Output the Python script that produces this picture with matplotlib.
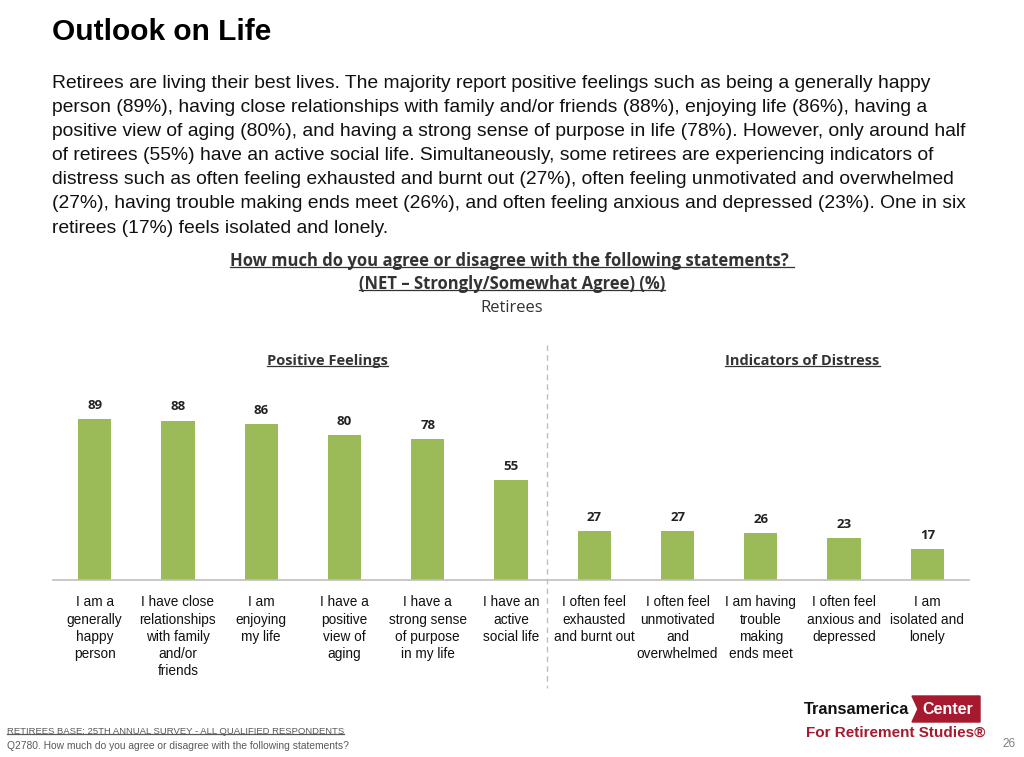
import matplotlib.pyplot as plt
from matplotlib.patches import Polygon
from matplotlib.lines import Line2D

# data
categories = [
    "I am a\ngenerally\nhappy\nperson",
    "I have close\nrelationships\nwith family\nand/or\nfriends",
    "I am\nenjoying\nmy life",
    "I have a\npositive\nview of\naging",
    "I have a\nstrong sense\nof purpose\nin my life",
    "I have an\nactive\nsocial life",
    "I often feel\nexhausted\nand burnt out",
    "I often feel\nunmotivated\nand\noverwhelmed",
    "I am having\ntrouble\nmaking\nends meet",
    "I often feel\nanxious and\ndepressed",
    "I am\nisolated and\nlonely",
]
values = [89, 88, 86, 80, 78, 55, 27, 27, 26, 23, 17]
group_names = ["Positive Feelings", "Indicators of Distress"]
group_centers = [2.8, 8.5]

paragraph = [
    "Retirees are living their best lives. The majority report positive feelings such as being a generally happy",
    "person (89%), having close relationships with family and/or friends (88%), enjoying life (86%), having a",
    "positive view of aging (80%), and having a strong sense of purpose in life (78%). However, only around half",
    "of retirees (55%) have an active social life. Simultaneously, some retirees are experiencing indicators of",
    "distress such as often feeling exhausted and burnt out (27%), often feeling unmotivated and overwhelmed",
    "(27%), having trouble making ends meet (26%), and often feeling anxious and depressed (23%). One in six",
    "retirees (17%) feels isolated and lonely.",
]

W, H = 1024, 757
fig = plt.figure(figsize=(W / 100, H / 100), dpi=100)

def fx(px):
    return px / W

def fy(py):
    return 1 - py / H

underlines = []

def ftext(x, y, s, underline=False, **kw):
    t = fig.text(fx(x), fy(y), s, **kw)
    if underline:
        underlines.append((t, kw.get("color", "black")))
    return t

narrow = "Liberation Sans"

# heading and paragraph
ftext(52, 32, "Outlook on Life", fontsize=21.5, fontweight="bold",
      family=narrow, va="center")
for i, line in enumerate(paragraph):
    ftext(52, 83 + i * 24.2, line, fontsize=13.9, family=narrow,
          va="center", color="#111111")

# chart titles
ftext(512, 261, "How much do you agree or disagree with the following statements? ",
      underline=True, fontsize=12, fontweight="bold", family="Open Sans",
      ha="center", va="center", color="#333333")
ftext(512, 284, "(NET \u2013 Strongly/Somewhat Agree) (%)", underline=True,
      fontsize=12, fontweight="bold", family="Open Sans", ha="center",
      va="center", color="#333333")
ftext(512, 308, "Retirees", fontsize=12, family="Open Sans", ha="center",
      va="center", color="#333333")

# bar chart
ax = fig.add_axes([fx(53), fy(580), fx(916), 181 / H])
x = range(len(values))
ax.bar(x, values, width=0.4, color="#9BBB59")
for xi, v in zip(x, values):
    ax.text(xi, v + 4, str(v), ha="center", va="bottom", fontsize=9.5,
            fontweight="bold", family="Open Sans", color="#222222")
ax.set_xlim(-0.5, len(values) - 0.5)
ax.set_ylim(0, 100)
ax.set_xticks(list(x))
ax.set_xticklabels(categories, fontsize=9.8, family=narrow,
                   linespacing=1.3, color="#111111")
ax.tick_params(axis="x", length=0, pad=11)
ax.set_yticks([])
for side in ["top", "right", "left"]:
    ax.spines[side].set_visible(False)
ax.spines["bottom"].set_color("#BFBFBF")
ax.spines["bottom"].set_linewidth(1.2)

for name, c in zip(group_names, group_centers):
    t = ax.text(c, 121, name, ha="center", va="center", fontsize=10.5,
                fontweight="bold", family="Open Sans", color="#333333")
    underlines.append((t, "#333333"))

# dashed divider between the groups
fig.add_artist(Line2D([fx(547), fx(547)], [fy(345), fy(688)], color="#BFBFBF",
                      linestyle=(0, (4, 3)), linewidth=1))

# footer
ftext(7, 731, "RETIREES BASE: 25TH ANNUAL SURVEY - ALL QUALIFIED RESPONDENTS",
      underline=True, fontsize=6.8, family=narrow, va="center",
      color="#595959")
ftext(7, 746, "Q2780. How much do you agree or disagree with the following statements?",
      fontsize=7.4, family=narrow, va="center", color="#595959")
ftext(1016, 744, "26", fontsize=8.5, family=narrow, ha="right",
      va="center", color="#7F7F7F")

# logo
red = "#A6192E"
ftext(909, 709, "Transamerica", fontsize=11.8, fontweight="bold",
      family=narrow, ha="right", va="center", color="#111111")
fig.add_artist(Polygon([(fx(912), fy(696)), (fx(980), fy(696)), (fx(980), fy(722)),
                        (fx(912), fy(722)), (fx(918), fy(709))],
                       closed=True, transform=fig.transFigure, color=red))
ftext(948, 709, "Center", fontsize=11.5, fontweight="bold",
      family=narrow, ha="center", va="center", color="white")
ftext(985, 733, "For Retirement Studies\u00ae", fontsize=11, fontweight="bold",
      family=narrow, ha="right", va="center", color=red)

# underline texts after layout is known
fig.canvas.draw()
r = fig.canvas.get_renderer()
for t, col in underlines:
    bb = t.get_window_extent(renderer=r).transformed(fig.transFigure.inverted())
    yl = bb.y0 + 0.15 * bb.height
    fig.add_artist(Line2D([bb.x0, bb.x1], [yl, yl], color=col, linewidth=0.9))

fig.savefig("out.png", dpi=100)
